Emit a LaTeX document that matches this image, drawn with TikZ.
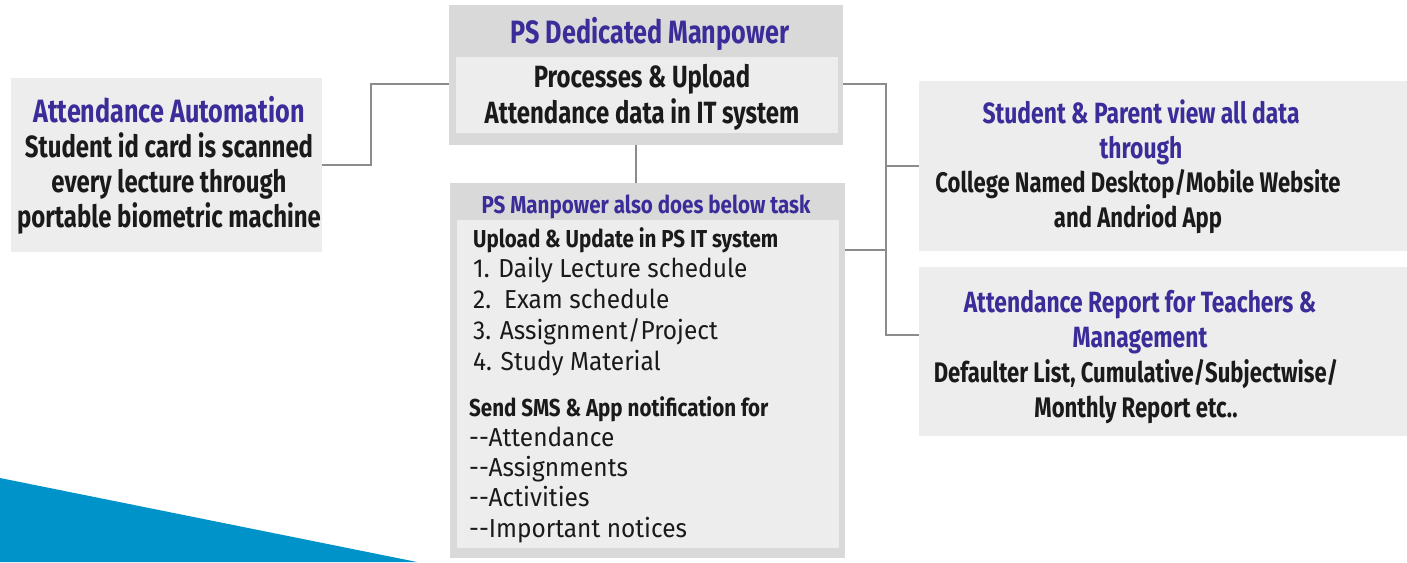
\documentclass[tikz,border=0pt]{standalone}
\usepackage{fontspec}
\setmainfont{Fira Sans}
\newfontfamily\condfont[FakeStretch=0.78]{Fira Sans}
\newfontfamily\smallcond[FakeStretch=0.84]{Fira Sans}
\newfontfamily\itemfont[FakeStretch=0.94]{Fira Sans}
\usetikzlibrary{positioning}

\definecolor{titlepurple}{HTML}{3A2C99}
\definecolor{panelgray}{HTML}{ECEDEC}
\definecolor{framegray}{HTML}{D9D9D9}
\definecolor{linegray}{HTML}{8C8C8C}
\definecolor{textdark}{HTML}{1A1A1A}
\definecolor{wedgeblue}{HTML}{0093C9}

\tikzset{
  panel/.style={fill=panelgray, inner sep=0pt, anchor=north west},
  frame/.style={fill=framegray, inner sep=0pt, anchor=north west},
  head/.style={font=\condfont\bfseries\fontsize{32.3}{36}\selectfont, text=titlepurple, anchor=base, inner sep=0pt},
  body/.style={font=\condfont\bfseries\fontsize{30.7}{36}\selectfont, text=textdark, anchor=base, inner sep=0pt},
  sidehead/.style={head, font=\condfont\bfseries\fontsize{29.3}{35}\selectfont},
  sidebody/.style={body, font=\condfont\bfseries\fontsize{28.3}{35}\selectfont},
  smallhead/.style={head, font=\smallcond\bfseries\fontsize{24.5}{28}\selectfont},
  smallbody/.style={body, font=\smallcond\bfseries\fontsize{24.5}{28}\selectfont, anchor=base west},
  item/.style={font=\itemfont\fontsize{26}{31}\selectfont, text=textdark, anchor=base west, inner sep=0pt},
  link/.style={draw=linegray, line width=1.5pt},
}

\begin{document}
\begin{tikzpicture}[x=1pt,y=-1pt]
  \useasboundingbox (0,0) rectangle (1407,562);
  \fill[wedgeblue] (0,478) -- (417,562) -- (0,562) -- cycle;

  % boxes
  \node[panel, minimum width=311pt, minimum height=174pt] (auto) at (11,78) {};
  \node[frame, minimum width=394pt, minimum height=140pt] (dedic) at (449,5) {};
  \node[panel, minimum width=382pt, minimum height=76pt] (upload) at (456,57) {};
  \node[frame, minimum width=395pt, minimum height=375pt] (task) at (450,183) {};
  \node[panel, minimum width=382pt, minimum height=328pt] (tasklist) at (457,220) {};
  \node[panel, minimum width=488pt, minimum height=170pt] (view) at (919,81) {};
  \node[panel, minimum width=488pt, minimum height=169pt] (report) at (919,267) {};

  % connectors
  \coordinate (ljoin) at (371,84);
  \coordinate (rjoin) at (886,84);
  \coordinate (tjoin) at (886,250);
  \coordinate (rbot) at (886,335);
  \draw[link] (auto.east) -| (ljoin) -- (ljoin -| dedic.west);
  \draw[link] (rjoin -| dedic.east) -- (rjoin) -- (rbot) -- (rbot -| report.west);
  \draw[link] (rjoin) |- (view.west);
  \draw[link] (tjoin -| task.east) -- (tjoin);
  \draw[link] ([xshift=-10pt]dedic.south) -- ([xshift=-10pt]dedic.south |- task.north);

  % left box
  \node[head] (autohead) at (169,122) {Attendance Automation};
  \foreach \txt [count=\i] in {Student id card is scanned, every lecture through, portable biometric machine}
    \node[body] (autoline\i) at (169,122+35*\i) {\txt};

  % top box
  \node[head] (dedichead) at (650,43) {PS Dedicated Manpower};
  \node[body] (uploadline1) at (642,87) {Processes \& Upload};
  \node[body] (uploadline2) at (642,123) {Attendance data in IT system};

  % task box
  \node[smallhead] (taskhead) at (646,213) {PS Manpower also does below task};
  \node[smallbody] (taskup) at (473,247) {Upload \& Update in PS IT system};
  \foreach \txt [count=\i] in {1. Daily Lecture schedule, 2.\ \ Exam schedule, 3. Assignment/Project, 4. Study Material}
    \node[item] (taskitem\i) at (473,246+31*\i) {\txt};
  \node[smallbody] (tasksms) at (469,416) {Send SMS \& App notification for};
  \foreach \txt [count=\i] in {Attendance, Assignments, Activities, Important notices}
    \node[item] (tasknote\i) at (469,416+30.3*\i) {-{}-\txt};

  % right boxes
  \node[sidehead] (viewhead1) at (1141,123) {Student \& Parent view all data};
  \node[sidehead] (viewhead2) at (1141,158) {through};
  \node[sidebody] (viewline1) at (1138,192) {College Named Desktop/Mobile Website};
  \node[sidebody] (viewline2) at (1138,227) {and Andriod App};
  \node[sidehead] (reporthead1) at (1140,312) {Attendance Report for Teachers \&};
  \node[sidehead] (reporthead2) at (1140,347) {Management};
  \node[sidebody] (reportline1) at (1136,382) {Defaulter List, Cumulative/Subjectwise/};
  \node[sidebody] (reportline2) at (1136,417) {Monthly Report etc..};
\end{tikzpicture}
\end{document}
